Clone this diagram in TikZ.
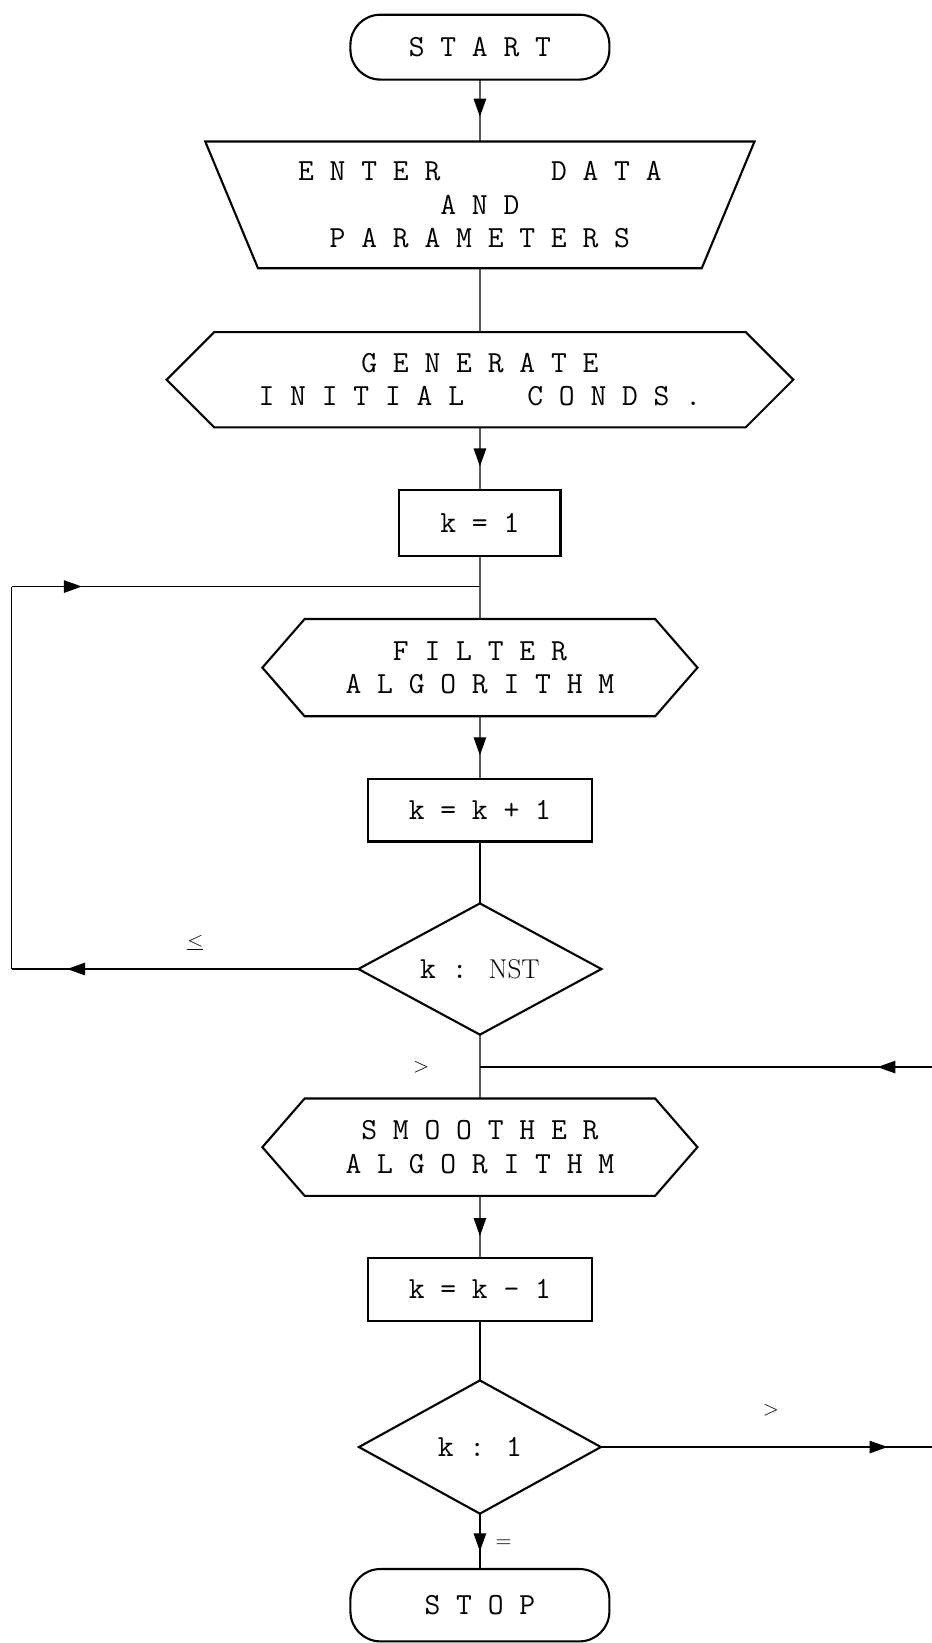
\documentclass[tikz,border=0pt]{standalone}
\usepackage{tikz}
\usetikzlibrary{arrows.meta, positioning, shapes.geometric, shapes.symbols, decorations.markings}

\begin{document}
\begin{tikzpicture}[
  node distance=1.26cm,
  every node/.style={font=\ttfamily\fontsize{17.5}{19}\selectfont, outer sep=0pt},
  terminal/.style={draw, line width=1.2pt, rounded corners=0.6cm, minimum width=5.19cm, minimum height=1.3cm},
  io/.style={draw, line width=1.2pt, trapezium, trapezium stretches=true, shape border rotate=180, trapezium angle=65.5, minimum width=11.03cm, minimum height=2.54cm, align=center},
  prep/.style={draw, line width=1.2pt, signal, signal to=west and east, signal pointer angle=98, minimum width=8.72cm, minimum height=1.95cm, align=center},
  proc/.style={draw, line width=1.2pt, minimum width=4.49cm, minimum height=1.25cm},
  decision/.style={draw, line width=1.2pt, diamond, aspect=1.85, inner sep=0pt, minimum width=4.87cm, minimum height=2.63cm},
  lbl/.style={font=\fontsize{12}{14}\selectfont},
  flow/.style={line width=0.7pt},
  midarrow/.style={postaction={decorate}, decoration={markings, mark=at position #1 with {\arrow{Triangle[length=3.6mm, width=2.5mm]}}}}
]
\useasboundingbox (0,0) rectangle (18.669,-32.928);

\node[terminal] (start) at (9.618,-0.945) {S T A R T};
\node[io, below=1.24cm of start] (enter) {E N T E R~~~~~~~D A T A\\A N D\\P A R A M E T E R S};
\node[prep, below=1.28cm of enter, signal pointer angle=90, minimum width=12.56cm, minimum height=1.91cm] (gen) {G E N E R A T E\\I N I T I A L~~~~C O N D S .};
\node[proc, below=1.26cm of gen, minimum width=3.23cm, minimum height=1.32cm] (kone) {k = 1};
\node[prep, below=of kone] (filter) {F I L T E R\\A L G O R I T H M};
\node[proc, below=of filter] (kinc) {k = k + 1};
\node[decision, below=1.24cm of kinc] (nst) {k : {\rmfamily\fontsize{15.5}{17}\selectfont NST}};
\node[prep, below=1.28cm of nst] (smooth) {S M O O T H E R\\A L G O R I T H M};
\node[proc, below=1.24cm of smooth, minimum height=1.26cm] (kdec) {k = k - 1};
\node[decision, below=1.2cm of kdec, minimum width=4.85cm, minimum height=2.67cm] (test) {k : 1};
\node[terminal, below=1.11cm of test, minimum height=1.45cm] (stop) {S T O P};

% loop corners
\coordinate[below=0.61cm of kone] (jtop);
\coordinate[below=0.65cm of nst] (jbot);
\coordinate[left=6.95cm of nst.west] (lbend);
\coordinate (ltop) at (lbend |- jtop);
\coordinate[right=6.68cm of test.east] (rbend);
\coordinate (rtop) at (rbend |- jbot);

\draw[flow, midarrow=0.6] (start) -- (enter);
\draw[flow] (enter) -- (gen);
\draw[flow, midarrow=0.62] (gen) -- (kone);
\draw[flow] (kone) -- (filter);
\draw[flow, midarrow=0.62] (filter) -- (kinc);
\draw[flow] (kinc) -- (nst);
\draw[flow] (nst) -- (smooth);
\draw[flow, midarrow=0.65] (smooth) -- (kdec);
\draw[flow] (kdec) -- (test);
\draw[flow, midarrow=0.68] (test) -- node[lbl, pos=0.55, right=0.2cm] (eqlbl) {$=$} (stop);

\draw[flow, midarrow=0.84] (nst.west) -- node[lbl, pos=0.47, above=0.25cm] (lelbl) {$\underline{<}$} (lbend);
\draw[flow] (lbend) -- (ltop);
\draw[flow, midarrow=0.15] (ltop) -- (jtop);

\draw[flow, midarrow=0.86] (test.east) -- node[lbl, pos=0.51, above=0.5cm] (gtlbl) {$>$} (rbend);
\draw[flow] (rbend) -- (rtop);
\draw[flow, midarrow=0.125] (rtop) -- (jbot);
\node[lbl, left=0.9cm of jbot] (gtnst) {$>$};
\end{tikzpicture}
\end{document}
